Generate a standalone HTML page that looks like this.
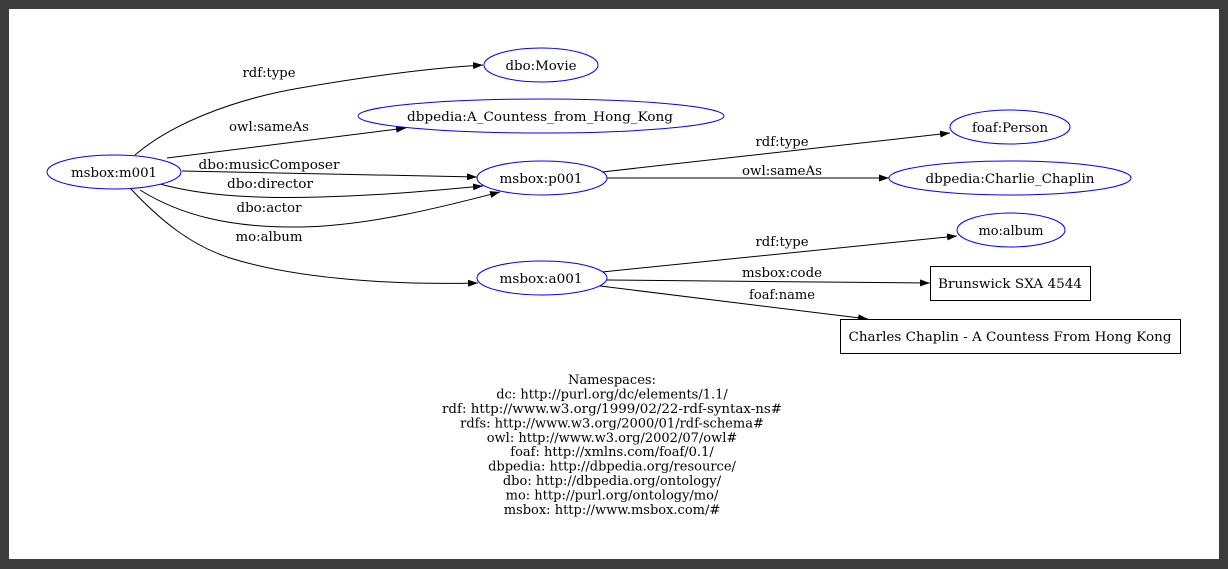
<!DOCTYPE html>
<html><head><meta charset="utf-8"><style>
html,body{margin:0;padding:0;background:#3c3c3c;}
svg{display:block}
text{font-family:"DejaVu Serif","Liberation Serif",serif;font-size:13px;fill:#000}
</style></head><body>
<svg width="1228" height="569" viewBox="0 0 1228 569" xmlns="http://www.w3.org/2000/svg">
<defs>
<marker id="a" viewBox="0 0 10 7" refX="10" refY="3.5" markerWidth="10" markerHeight="7" markerUnits="userSpaceOnUse" orient="auto">
<path d="M0,0 L10,3.5 L0,7 z" fill="#000"/></marker>
</defs>
<rect x="0" y="0" width="1228" height="569" fill="#3c3c3c"/>
<rect x="9" y="9" width="1210" height="550" fill="#fff"/>
<g fill="none" stroke="#000" stroke-width="1" marker-end="url(#a)">
<path d="M135,155 C170,125 230,100 300,88 S430,68 483,65"/>
<path d="M167,158 L406,128"/>
<path d="M182,171 L477,177"/>
<path d="M160,184 C200,195 250,199 320,197 S440,190 483,186"/>
<path d="M140,190 C180,215 230,228 300,227 S450,205 500,192"/>
<path d="M130,188 C160,220 190,245 230,258 C300,280 400,285 478,283"/>
<path d="M602,172 L950,133"/>
<path d="M607,178 L889,178"/>
<path d="M602,272 L957,236"/>
<path d="M607,280 L930,283"/>
<path d="M600,286 L868,319"/>
</g>
<g fill="#fff" stroke="#0000ff" stroke-width="1">
<ellipse cx="114" cy="172" rx="67" ry="17"/>
<ellipse cx="541" cy="65" rx="57" ry="17"/>
<ellipse cx="541" cy="116" rx="183" ry="17"/>
<ellipse cx="542" cy="178" rx="65" ry="17"/>
<ellipse cx="542" cy="278" rx="65" ry="17"/>
<ellipse cx="1010" cy="127" rx="60" ry="17"/>
<ellipse cx="1010" cy="178" rx="121" ry="17"/>
<ellipse cx="1011" cy="230" rx="54" ry="17"/>
</g>
<g fill="#fff" stroke="#000" stroke-width="1">
<rect x="930.5" y="266.5" width="160" height="34"/>
<rect x="840.5" y="319.5" width="340" height="34"/>
</g>
<g text-anchor="middle">
<text x="114" y="177" textLength="86" lengthAdjust="spacingAndGlyphs">msbox:m001</text>
<text x="541" y="70" textLength="71" lengthAdjust="spacingAndGlyphs">dbo:Movie</text>
<text x="540" y="121" textLength="266" lengthAdjust="spacingAndGlyphs">dbpedia:A_Countess_from_Hong_Kong</text>
<text x="541" y="183" textLength="83" lengthAdjust="spacingAndGlyphs">msbox:p001</text>
<text x="541" y="283" textLength="83" lengthAdjust="spacingAndGlyphs">msbox:a001</text>
<text x="1010" y="132" textLength="76" lengthAdjust="spacingAndGlyphs">foaf:Person</text>
<text x="1010" y="183" textLength="169" lengthAdjust="spacingAndGlyphs">dbpedia:Charlie_Chaplin</text>
<text x="1011" y="235" textLength="65" lengthAdjust="spacingAndGlyphs">mo:album</text>
<text x="1010" y="288" textLength="144" lengthAdjust="spacingAndGlyphs">Brunswick SXA 4544</text>
<text x="1010" y="341" textLength="323" lengthAdjust="spacingAndGlyphs">Charles Chaplin - A Countess From Hong Kong</text>

<text x="269" y="77" textLength="53" lengthAdjust="spacingAndGlyphs">rdf:type</text>
<text x="269" y="131" textLength="80" lengthAdjust="spacingAndGlyphs">owl:sameAs</text>
<text x="269" y="169" textLength="141" lengthAdjust="spacingAndGlyphs">dbo:musicComposer</text>
<text x="270" y="188" textLength="86" lengthAdjust="spacingAndGlyphs">dbo:director</text>
<text x="269" y="212" textLength="65" lengthAdjust="spacingAndGlyphs">dbo:actor</text>
<text x="269" y="241" textLength="67" lengthAdjust="spacingAndGlyphs">mo:album</text>
<text x="782" y="146" textLength="53" lengthAdjust="spacingAndGlyphs">rdf:type</text>
<text x="782" y="175" textLength="80" lengthAdjust="spacingAndGlyphs">owl:sameAs</text>
<text x="782" y="246" textLength="53" lengthAdjust="spacingAndGlyphs">rdf:type</text>
<text x="782" y="277" textLength="80" lengthAdjust="spacingAndGlyphs">msbox:code</text>
<text x="782" y="299" textLength="66" lengthAdjust="spacingAndGlyphs">foaf:name</text>
</g>
<g text-anchor="middle" style="font-size:12.5px">
<text x="612" y="384">Namespaces:</text>
<text x="612" y="398.4">dc: http://purl.org/dc/elements/1.1/</text>
<text x="612" y="412.9" textLength="340" lengthAdjust="spacingAndGlyphs">rdf: http://www.w3.org/1999/02/22-rdf-syntax-ns#</text>
<text x="612" y="427.3">rdfs: http://www.w3.org/2000/01/rdf-schema#</text>
<text x="612" y="441.8">owl: http://www.w3.org/2002/07/owl#</text>
<text x="612" y="456.2">foaf: http://xmlns.com/foaf/0.1/</text>
<text x="612" y="470.6">dbpedia: http://dbpedia.org/resource/</text>
<text x="612" y="485.1">dbo: http://dbpedia.org/ontology/</text>
<text x="612" y="499.5">mo: http://purl.org/ontology/mo/</text>
<text x="612" y="514">msbox: http://www.msbox.com/#</text>
</g>
</svg>
</body></html>
